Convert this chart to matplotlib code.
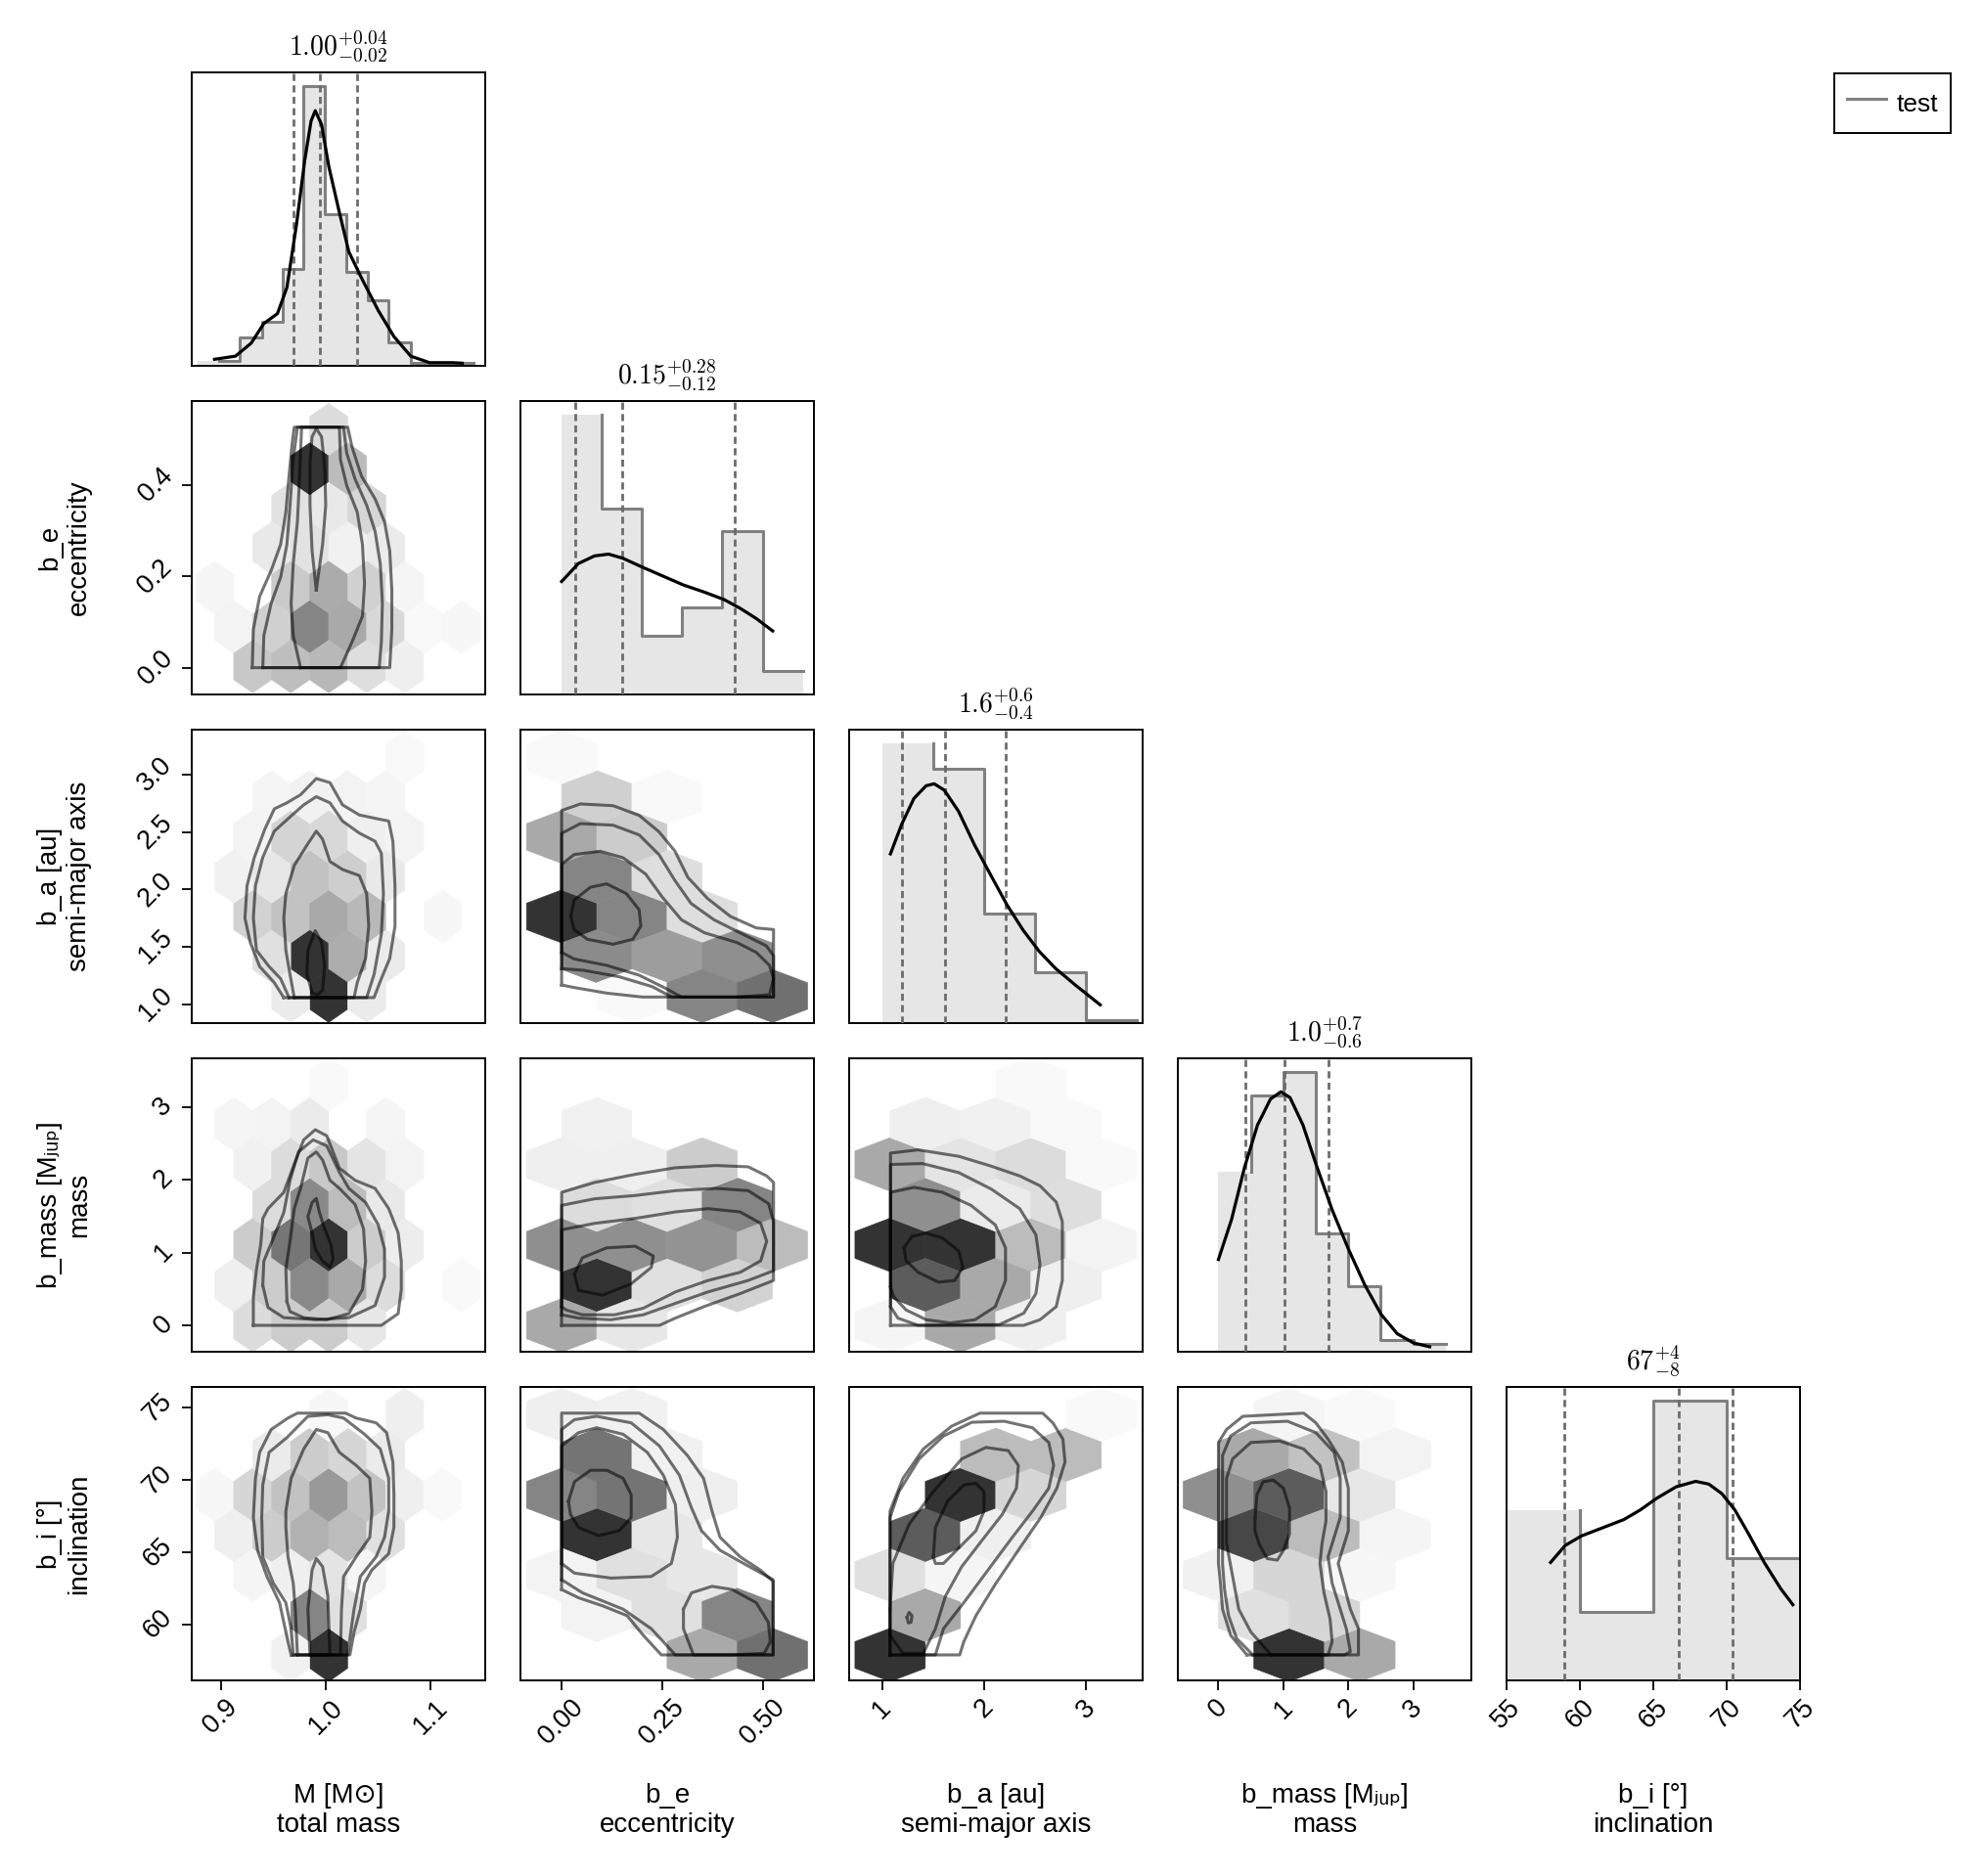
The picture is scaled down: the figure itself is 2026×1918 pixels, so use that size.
import matplotlib
matplotlib.use('Agg')
import matplotlib.pyplot as plt
import numpy as np
from matplotlib.collections import PolyCollection
from matplotlib.lines import Line2D

plt.rcParams['font.family'] = ['Liberation Sans', 'DejaVu Sans', 'Noto Sans']
plt.rcParams['mathtext.fontset'] = 'cm'

# ---- variables ----
labels = ['M [M⊙]\ntotal mass', 'b_e\neccentricity', 'b_a [au]\nsemi-major axis',
          'b_mass [Mⱼᵤₚ]\nmass', 'b_i [°]\ninclination']
titles = [r'$1.00^{+0.04}_{-0.02}$', r'$0.15^{+0.28}_{-0.12}$', r'$1.6^{+0.6}_{-0.4}$',
          r'$1.0^{+0.7}_{-0.6}$', r'$67^{+4}_{-8}$']
xlims = [(0.8723, 1.152), (-0.1024, 0.6275), (0.6786, 3.555), (-0.625, 3.894), (55, 75)]
ylims = [None, (-0.0587, 0.5843), (0.835, 3.391), (-0.362, 3.665), (56.14, 76.42)]
xticks = [[0.9, 1.0, 1.1], [0.0, 0.25, 0.5], [1, 2, 3], [0, 1, 2, 3], [55, 60, 65, 70, 75]]
xticklabels = [['0.9', '1.0', '1.1'], ['0.00', '0.25', '0.50'], ['1', '2', '3'],
               ['0', '1', '2', '3'], ['55', '60', '65', '70', '75']]
yticks = [None, [0.0, 0.2, 0.4], [1.0, 1.5, 2.0, 2.5, 3.0], [0, 1, 2, 3], [60, 65, 70, 75]]
yticklabels = [None, ['0.0', '0.2', '0.4'], ['1.0', '1.5', '2.0', '2.5', '3.0'],
               ['0', '1', '2', '3'], ['60', '65', '70', '75']]

# ---- 1D histograms, KDE curves, quantiles ----
hist_M_edges = [0.878, 0.898, 0.918, 0.939, 0.959, 0.979, 0.999, 1.020, 1.040, 1.060, 1.081, 1.101, 1.121, 1.141]
hist_M_counts = [2, 2, 11, 17, 37, 107, 58, 36, 25, 9, 1, 1, 1]
kde_M_x = [0.894, 0.914, 0.929, 0.941, 0.954, 0.963, 0.972, 0.980, 0.986, 0.990, 0.996, 1.003, 1.013, 1.022, 1.034, 1.050, 1.065, 1.081, 1.099, 1.121, 1.130]
kde_M_y = [2.5, 3.7, 8.7, 16.2, 20.0, 30.0, 53.7, 78.7, 93.7, 97.7, 92.4, 76.2, 58.7, 43.7, 33.7, 21.2, 11.2, 3.7, 1.2, 1.2, 1.0]
quant_M = [0.969, 0.994, 1.030]

hist_e_edges = [0.0, 0.1, 0.2, 0.3, 0.4, 0.5, 0.6]
hist_e_counts = [48, 32, 10, 15, 28, 4]
kde_e_x = [0.0, 0.042, 0.082, 0.117, 0.152, 0.203, 0.253, 0.303, 0.354, 0.404, 0.444, 0.485, 0.525]
kde_e_y = [19.4, 22.5, 23.8, 24.1, 23.4, 21.8, 20.3, 18.8, 17.6, 16.3, 14.8, 13.0, 10.9]
quant_e = [0.034, 0.150, 0.430]

hist_a_edges = [1.0, 1.5, 2.0, 2.5, 3.0, 3.5]
hist_a_counts = [110, 100, 43, 20, 1]
kde_a_x = [1.083, 1.194, 1.313, 1.432, 1.512, 1.611, 1.750, 1.909, 2.067, 2.226, 2.385, 2.544, 2.702, 2.901, 3.139]
kde_a_y = [66.6, 78.3, 88.4, 93.4, 94.2, 91.7, 83.4, 70.0, 58.2, 46.5, 36.5, 28.1, 21.5, 14.8, 7.2]
quant_a = [1.20, 1.62, 2.21]

hist_m_edges = [0.0, 0.5, 1.0, 1.5, 2.0, 2.5, 3.0, 3.5]
hist_m_counts = [47, 67, 73, 31, 17, 3, 2]
kde_m_x = [0.0, 0.201, 0.401, 0.601, 0.801, 0.961, 1.102, 1.302, 1.502, 1.752, 2.002, 2.252, 2.503, 2.753, 3.003, 3.253]
kde_m_y = [24.1, 34.5, 48.1, 59.2, 66.0, 67.9, 66.4, 59.2, 49.0, 37.0, 26.8, 17.5, 9.8, 4.7, 2.3, 1.3]
quant_m = [0.41, 1.01, 1.70]

hist_i_edges = [55, 60, 65, 70, 75]
hist_i_counts = [25, 10, 41, 18]
kde_i_x = [58.0, 59.0, 60.11, 61.44, 63.0, 64.11, 65.22, 66.56, 67.89, 68.78, 69.67, 70.56, 71.44, 72.56, 73.67, 74.51]
kde_i_y = [17.3, 19.8, 21.2, 22.3, 23.6, 25.0, 26.7, 28.4, 29.2, 28.8, 27.4, 25.0, 21.7, 17.3, 13.5, 11.1]
quant_i = [58.96, 66.73, 70.38]

# ---- hexbin lattices: bin width per x variable, row step per y variable ----
hex_w = [0.0362, 0.1748, 0.69, 1.088]
hex_dy = [None, 0.0865, 0.3465, 0.552, 2.767]

# cells: (half-width column index, row index, relative density)
hex_e_M_origin = (0.9847, 0.435)
hex_e_M = [(1, 1, 0.17), (0, 0, 1.0), (2, 0, 0.33),
           (-1, -1, 0.14), (1, -1, 0.11), (3, -1, 0.2),
           (-2, -2, 0.11), (0, -2, 0.14), (2, -2, 0.07), (4, -2, 0.1),
           (-5, -3, 0.05), (-1, -3, 0.26), (1, -3, 0.41), (3, -3, 0.23), (5, -3, 0.05),
           (-4, -4, 0.06), (-2, -4, 0.23), (0, -4, 0.6), (2, -4, 0.42), (4, -4, 0.19), (6, -4, 0.03), (8, -4, 0.04),
           (-3, -5, 0.27), (-1, -5, 0.32), (1, -5, 0.35), (3, -5, 0.16), (5, -5, 0.08)]

hex_a_M_origin = (0.9847, 1.418)
hex_a_M = [(0, 0, 1.0), (-2, 0, 0.15), (2, 0, 0.4), (4, 0, 0.1),
           (1, -1, 1.0), (-1, -1, 0.1), (3, -1, 0.1),
           (-3, 1, 0.22), (-1, 1, 0.3), (1, 1, 0.42), (3, 1, 0.35), (7, 1, 0.04),
           (-4, 2, 0.07), (-2, 2, 0.12), (0, 2, 0.3), (2, 2, 0.24), (4, 2, 0.11),
           (-3, 3, 0.06), (-1, 3, 0.21), (1, 3, 0.19), (3, 3, 0.08), (5, 3, 0.06),
           (-2, 4, 0.05), (0, 4, 0.07), (2, 4, 0.06), (4, 4, 0.05), (5, 5, 0.03)]

hex_m_M_origin = (0.9847, 1.104)
hex_m_M = [(1, 0, 1.0), (-3, 0, 0.25), (-1, 0, 0.67), (3, 0, 0.25), (5, 0, 0.09),
           (-2, 1, 0.17), (0, 1, 0.58), (2, 1, 0.33), (4, 1, 0.11),
           (-4, -1, 0.08), (-2, -1, 0.25), (0, -1, 0.58), (2, -1, 0.42), (4, -1, 0.17), (8, -1, 0.03),
           (-3, -2, 0.17), (-1, -2, 0.25), (1, -2, 0.25), (3, -2, 0.12),
           (-3, 2, 0.07), (-1, 2, 0.17), (1, 2, 0.27), (3, 2, 0.13), (5, 2, 0.06),
           (-4, 3, 0.05), (-2, 3, 0.06), (0, 3, 0.1), (4, 3, 0.05), (1, 4, 0.03)]

hex_i_M_origin = (0.9847, 57.9)
hex_i_M = [(1, 0, 1.0), (-1, 0, 0.07), (0, 1, 0.6), (2, 1, 0.15),
           (-3, 2, 0.05), (-1, 2, 0.08), (1, 2, 0.13), (3, 2, 0.05),
           (-4, 3, 0.08), (-2, 3, 0.25), (0, 3, 0.38), (2, 3, 0.33), (4, 3, 0.15),
           (-5, 4, 0.04), (-3, 4, 0.2), (-1, 4, 0.3), (1, 4, 0.5), (3, 4, 0.3), (5, 4, 0.08), (7, 4, 0.03),
           (-2, 5, 0.1), (0, 5, 0.25), (2, 5, 0.2), (4, 5, 0.1), (1, 6, 0.04), (5, 6, 0.08)]

hex_a_e_origin = (0.0, 1.764)
hex_a_e = [(0, 0, 1.0), (2, 0, 0.6), (4, 0, 0.16),
           (1, -1, 0.57), (3, -1, 0.48), (5, -1, 0.55),
           (2, -2, 0.03), (4, -2, 0.6), (6, -2, 0.7),
           (1, 1, 0.6), (3, 1, 0.16), (0, 2, 0.42), (2, 2, 0.25),
           (1, 3, 0.23), (3, 3, 0.03), (0, 4, 0.03)]

hex_m_e_origin = (0.0, 0.552)
hex_m_e = [(1, 0, 1.0), (3, 0, 0.15), (5, 0, 0.22),
           (0, 1, 0.55), (2, 1, 0.55), (4, 1, 0.53), (6, 1, 0.33),
           (1, 2, 0.17), (3, 2, 0.15), (5, 2, 0.6),
           (0, 3, 0.08), (2, 3, 0.08), (4, 3, 0.25), (1, 4, 0.07),
           (0, -1, 0.42), (2, -1, 0.12)]

hex_i_e_origin = (0.0, 66.2)
hex_i_e = [(1, 0, 1.0), (3, 0, 0.12), (0, 1, 0.6), (2, 1, 0.68), (4, 1, 0.08),
           (1, 2, 0.68), (3, 2, 0.07), (0, 3, 0.08), (2, 3, 0.07),
           (0, -1, 0.06), (2, -1, 0.15), (4, -1, 0.12),
           (1, -2, 0.06), (3, -2, 0.15), (5, -2, 0.6), (4, -3, 0.42), (6, -3, 0.7)]

hex_m_a_origin = (1.08, 1.104)
hex_m_a = [(0, 0, 1.0), (2, 0, 1.0), (4, 0, 0.33), (6, 0, 0.06),
           (1, 1, 0.55), (3, 1, 0.1), (5, 1, 0.16),
           (0, 2, 0.42), (2, 2, 0.13), (4, 2, 0.17), (6, 2, 0.03),
           (1, 3, 0.08), (3, 3, 0.07), (5, 3, 0.03), (4, 4, 0.03),
           (1, -1, 0.8), (3, -1, 0.42), (5, -1, 0.08),
           (0, -2, 0.05), (2, -2, 0.42), (4, -2, 0.08)]

hex_i_a_origin = (1.08, 57.9)
hex_i_a = [(0, 0, 1.0), (1, 1, 0.42), (0, 2, 0.15), (2, 2, 0.05), (1, 3, 0.8), (3, 3, 0.08),
           (2, 4, 1.0), (4, 4, 0.2), (3, 5, 0.33), (5, 5, 0.33), (6, 6, 0.03)]

hex_i_m_origin = (0.0, 57.9)
hex_i_m = [(2, 0, 1.0), (4, 0, 0.42), (1, 1, 0.15), (3, 1, 0.2), (0, 2, 0.07), (2, 2, 0.2), (4, 2, 0.04),
           (1, 3, 0.9), (3, 3, 0.33), (5, 3, 0.05), (0, 4, 0.55), (2, 4, 0.8), (4, 4, 0.12),
           (1, 5, 0.42), (3, 5, 0.3), (5, 5, 0.06), (2, 6, 0.05), (4, 6, 0.03)]

# ---- density contours (closed loops, data units) ----
cont_e_M = [
    [(0.930, 0.0), (0.931, 0.084), (0.937, 0.156), (0.948, 0.213), (0.957, 0.270), (0.962, 0.341), (0.965, 0.420), (0.968, 0.491), (0.970, 0.527), (1.021, 0.527), (1.025, 0.484), (1.034, 0.420), (1.047, 0.370), (1.056, 0.320), (1.061, 0.256), (1.063, 0.170), (1.063, 0.084), (1.061, 0.0)],
    [(0.940, 0.0), (0.941, 0.070), (0.948, 0.141), (0.957, 0.198), (0.963, 0.270), (0.966, 0.356), (0.969, 0.456), (0.973, 0.527), (1.017, 0.527), (1.020, 0.470), (1.028, 0.413), (1.039, 0.356), (1.047, 0.299), (1.052, 0.227), (1.054, 0.141), (1.053, 0.056), (1.051, 0.0)],
    [(0.976, 0.0), (0.969, 0.070), (0.967, 0.141), (0.969, 0.227), (0.973, 0.320), (0.975, 0.413), (0.977, 0.527), (1.013, 0.527), (1.014, 0.456), (1.020, 0.399), (1.030, 0.341), (1.035, 0.270), (1.037, 0.184), (1.035, 0.113), (1.025, 0.056), (1.014, 0.0)],
    [(0.991, 0.170), (0.987, 0.256), (0.985, 0.356), (0.985, 0.449), (0.987, 0.506), (0.991, 0.524), (0.996, 0.506), (0.999, 0.441), (1.000, 0.356), (0.997, 0.270)],
]
cont_a_M = [
    [(0.960, 1.057), (0.951, 1.187), (0.937, 1.328), (0.928, 1.539), (0.923, 1.750), (0.925, 2.032), (0.932, 2.279), (0.942, 2.525), (0.951, 2.701), (0.963, 2.754), (0.976, 2.824), (0.991, 2.965), (1.004, 2.930), (1.016, 2.736), (1.032, 2.648), (1.050, 2.613), (1.060, 2.595), (1.064, 2.419), (1.066, 2.032), (1.066, 1.680), (1.061, 1.398), (1.053, 1.222), (1.046, 1.057)],
    [(0.965, 1.057), (0.957, 1.222), (0.946, 1.328), (0.934, 1.469), (0.931, 1.750), (0.933, 2.032), (0.940, 2.279), (0.951, 2.507), (0.966, 2.631), (0.979, 2.736), (0.991, 2.807), (1.004, 2.754), (1.016, 2.595), (1.032, 2.490), (1.047, 2.419), (1.053, 2.314), (1.055, 1.962), (1.053, 1.609), (1.046, 1.257), (1.039, 1.057)],
    [(0.970, 1.057), (0.966, 1.257), (0.962, 1.469), (0.960, 1.750), (0.962, 1.962), (0.970, 2.208), (0.982, 2.384), (0.991, 2.507), (0.997, 2.437), (1.004, 2.243), (1.016, 2.173), (1.032, 2.120), (1.039, 1.962), (1.041, 1.680), (1.038, 1.398), (1.030, 1.187), (1.027, 1.057)],
    [(0.987, 1.10), (0.982, 1.26), (0.983, 1.47), (0.990, 1.64), (0.996, 1.54), (0.999, 1.33), (0.997, 1.12), (0.992, 1.08)],
]
cont_m_M = [
    [(0.931, 0.0), (0.931, 0.383), (0.934, 0.771), (0.938, 1.104), (0.940, 1.465), (0.945, 1.603), (0.960, 1.825), (0.970, 2.213), (0.979, 2.546), (0.990, 2.685), (1.001, 2.601), (1.013, 2.158), (1.028, 1.991), (1.047, 1.880), (1.060, 1.603), (1.069, 1.270), (1.072, 0.882), (1.072, 0.494), (1.069, 0.161), (1.053, 0.0)],
    [(0.940, 0.550), (0.945, 0.245), (0.960, 0.106), (0.991, 0.078), (1.022, 0.106), (1.047, 0.272), (1.056, 0.661), (1.056, 1.049), (1.050, 1.381), (1.038, 1.686), (1.022, 1.880), (1.013, 2.102), (1.001, 2.463), (0.988, 2.546), (0.974, 2.380), (0.966, 1.991), (0.960, 1.548), (0.949, 1.160), (0.941, 0.882)],
    [(0.963, 0.328), (0.962, 0.771), (0.966, 1.160), (0.970, 1.603), (0.976, 1.880), (0.983, 2.296), (0.991, 2.380), (0.997, 2.269), (1.004, 1.991), (1.013, 1.880), (1.028, 1.659), (1.036, 1.326), (1.038, 0.882), (1.035, 0.494), (1.022, 0.161), (1.001, 0.078), (0.979, 0.106), (0.966, 0.189)],
    [(0.987, 1.270), (0.983, 1.492), (0.987, 1.686), (0.991, 1.742), (0.994, 1.548), (0.999, 1.326), (1.005, 1.104), (1.007, 0.910), (1.004, 0.799), (0.997, 0.882), (0.990, 1.049)],
]
cont_i_M = [
    [(0.967, 57.90), (0.964, 58.81), (0.960, 60.16), (0.956, 61.51), (0.944, 63.32), (0.935, 65.13), (0.931, 67.39), (0.933, 70.10), (0.937, 71.90), (0.948, 73.48), (0.964, 74.27), (0.973, 74.61), (1.019, 74.61), (1.029, 74.27), (1.048, 73.94), (1.058, 73.26), (1.064, 71.23), (1.065, 68.97), (1.065, 66.71), (1.060, 64.90), (1.044, 63.77), (1.037, 62.87), (1.033, 61.06), (1.027, 59.48), (1.023, 57.90)],
    [(0.969, 57.90), (0.967, 59.71), (0.962, 61.51), (0.950, 62.87), (0.940, 64.68), (0.939, 67.39), (0.940, 69.65), (0.946, 71.90), (0.963, 72.92), (0.983, 74.39), (1.002, 74.50), (1.017, 74.27), (1.037, 73.15), (1.052, 72.13), (1.060, 70.10), (1.060, 67.84), (1.056, 66.03), (1.048, 64.68), (1.033, 63.32), (1.027, 61.06), (1.023, 59.03), (1.021, 57.90)],
    [(0.973, 57.90), (0.971, 61.06), (0.969, 62.87), (0.964, 64.68), (0.962, 66.71), (0.962, 67.84), (0.967, 70.10), (0.979, 72.13), (0.991, 73.48), (1.002, 73.26), (1.013, 71.90), (1.029, 71.00), (1.042, 70.10), (1.044, 67.84), (1.042, 66.03), (1.029, 64.68), (1.017, 63.32), (1.015, 61.06), (1.014, 57.90)],
    [(0.985, 57.90), (0.983, 61.06), (0.987, 63.77), (0.991, 64.56), (0.997, 64.00), (1.002, 61.97), (1.004, 57.90)],
]
cont_a_e = [
    [(0.0, 1.167), (0.0, 2.687), (0.047, 2.744), (0.128, 2.729), (0.193, 2.644), (0.242, 2.502), (0.282, 2.332), (0.314, 2.104), (0.363, 1.920), (0.420, 1.764), (0.484, 1.664), (0.527, 1.650), (0.527, 1.062), (0.201, 1.062), (0.112, 1.096), (0.031, 1.145)],
    [(0.0, 1.309), (0.0, 2.488), (0.047, 2.573), (0.128, 2.559), (0.193, 2.474), (0.242, 2.303), (0.282, 2.076), (0.322, 1.877), (0.379, 1.735), (0.452, 1.607), (0.509, 1.508), (0.527, 1.423), (0.527, 1.062), (0.274, 1.062), (0.225, 1.153), (0.144, 1.238), (0.055, 1.295)],
    [(0.0, 1.451), (0.0, 2.218), (0.031, 2.303), (0.096, 2.332), (0.153, 2.275), (0.209, 2.133), (0.250, 1.934), (0.298, 1.735), (0.355, 1.622), (0.436, 1.537), (0.484, 1.451), (0.517, 1.338), (0.527, 1.224), (0.517, 1.082), (0.436, 1.062), (0.298, 1.062), (0.258, 1.139), (0.193, 1.252), (0.112, 1.338), (0.031, 1.394)],
    [(0.023, 1.764), (0.031, 1.906), (0.072, 2.019), (0.112, 2.048), (0.161, 1.963), (0.193, 1.821), (0.197, 1.679), (0.177, 1.565), (0.128, 1.522), (0.064, 1.565), (0.031, 1.650)],
]
cont_m_e = [
    [(0.0, 0.0), (0.0, 1.826), (0.082, 1.961), (0.183, 2.073), (0.283, 2.163), (0.384, 2.194), (0.464, 2.176), (0.510, 2.051), (0.527, 1.961), (0.527, 0.616), (0.444, 0.436), (0.354, 0.257), (0.283, 0.100), (0.243, 0.0)],
    [(0.0, 0.145), (0.0, 1.647), (0.082, 1.737), (0.183, 1.782), (0.283, 1.849), (0.384, 1.880), (0.464, 1.849), (0.515, 1.669), (0.527, 1.423), (0.527, 0.750), (0.464, 0.616), (0.364, 0.459), (0.283, 0.302), (0.203, 0.145), (0.122, 0.077), (0.042, 0.100)],
    [(0.0, 0.257), (0.0, 1.311), (0.082, 1.400), (0.183, 1.468), (0.283, 1.557), (0.364, 1.602), (0.444, 1.557), (0.495, 1.400), (0.510, 1.154), (0.495, 0.885), (0.444, 0.728), (0.364, 0.616), (0.283, 0.459), (0.203, 0.235), (0.132, 0.145), (0.052, 0.145), (0.011, 0.212)],
    [(0.032, 0.705), (0.052, 0.929), (0.112, 1.064), (0.183, 1.086), (0.228, 0.952), (0.223, 0.795), (0.173, 0.571), (0.102, 0.414), (0.042, 0.481)],
]
cont_m_a = [
    [(1.084, 0.0), (1.084, 2.364), (1.355, 2.409), (1.753, 2.320), (2.071, 2.185), (2.350, 2.051), (2.549, 1.916), (2.708, 1.692), (2.768, 1.423), (2.768, 0.616), (2.708, 0.257), (2.549, 0.077), (2.390, 0.0)],
    [(1.084, 0.257), (1.084, 2.208), (1.395, 2.221), (1.753, 2.096), (2.071, 1.871), (2.350, 1.602), (2.509, 1.244), (2.549, 0.840), (2.509, 0.436), (2.390, 0.167), (2.151, 0.010), (1.355, 0.0), (1.156, 0.100)],
    [(1.084, 0.526), (1.084, 1.826), (1.315, 1.894), (1.594, 1.826), (1.872, 1.647), (2.111, 1.378), (2.211, 1.064), (2.211, 0.616), (2.111, 0.257), (1.912, 0.077), (1.673, 0.033), (1.435, 0.077), (1.236, 0.212), (1.116, 0.391)],
    [(1.216, 1.064), (1.295, 1.221), (1.435, 1.266), (1.594, 1.199), (1.753, 1.019), (1.793, 0.795), (1.713, 0.616), (1.554, 0.593), (1.355, 0.728), (1.236, 0.885)],
]
cont_i_e = [
    [(0.0, 62.42), (0.0, 74.61), (0.193, 74.61), (0.253, 73.48), (0.313, 71.68), (0.353, 70.10), (0.374, 67.84), (0.394, 66.03), (0.444, 64.68), (0.494, 63.77), (0.526, 62.98), (0.526, 57.90), (0.248, 57.90), (0.203, 59.26), (0.163, 60.61), (0.102, 61.29), (0.042, 61.85)],
    [(0.0, 63.10), (0.0, 73.48), (0.032, 74.16), (0.087, 74.39), (0.173, 73.94), (0.243, 72.35), (0.293, 70.32), (0.323, 68.06), (0.348, 66.48), (0.394, 65.13), (0.474, 63.89), (0.526, 63.10), (0.526, 57.90), (0.283, 57.90), (0.223, 59.71), (0.153, 61.06), (0.052, 62.19)],
    [(0.0, 64.22), (0.0, 72.35), (0.042, 73.26), (0.087, 73.60), (0.153, 73.15), (0.213, 71.90), (0.253, 70.32), (0.283, 68.29), (0.288, 66.03), (0.273, 64.22), (0.223, 63.32), (0.123, 63.21), (0.032, 63.55)],
    [(0.303, 61.06), (0.323, 62.19), (0.374, 62.64), (0.424, 62.42), (0.484, 61.51), (0.514, 60.16), (0.519, 58.81), (0.504, 58.01), (0.424, 57.90), (0.328, 57.90), (0.303, 59.71)],
    [(0.017, 68.52), (0.032, 69.87), (0.072, 70.66), (0.113, 70.66), (0.153, 70.10), (0.173, 68.97), (0.173, 67.39), (0.143, 66.48), (0.092, 66.14), (0.042, 66.71), (0.022, 67.61)],
]
cont_i_a = [
    [(1.079, 57.90), (1.079, 67.84), (1.206, 70.10), (1.405, 72.13), (1.683, 73.71), (1.960, 74.61), (2.575, 74.61), (2.675, 73.94), (2.774, 72.81), (2.794, 71.23), (2.714, 69.42), (2.556, 67.39), (2.357, 65.35), (2.119, 62.87), (1.921, 60.61), (1.802, 58.81), (1.762, 57.90)],
    [(1.079, 57.90), (1.079, 67.39), (1.167, 69.19), (1.365, 71.45), (1.603, 73.03), (1.881, 73.98), (2.199, 74.05), (2.476, 73.60), (2.635, 72.58), (2.683, 71.00), (2.635, 69.42), (2.476, 67.84), (2.278, 66.03), (2.040, 63.77), (1.802, 61.51), (1.603, 59.71), (1.524, 57.90)],
    [(1.079, 61.06), (1.107, 64.22), (1.266, 66.93), (1.504, 69.19), (1.782, 71.45), (2.020, 72.24), (2.238, 72.02), (2.337, 71.00), (2.318, 69.42), (2.179, 67.61), (1.980, 65.81), (1.782, 64.00), (1.623, 61.97), (1.524, 59.71), (1.405, 58.01), (1.206, 58.01), (1.079, 59.26)],
    [(1.504, 64.68), (1.524, 66.71), (1.643, 68.52), (1.802, 69.65), (1.921, 69.76), (2.000, 69.19), (2.000, 67.84), (1.921, 66.48), (1.762, 65.35), (1.603, 64.22), (1.524, 64.22)],
    [(1.246, 60.50), (1.266, 60.84), (1.294, 60.61), (1.286, 60.16), (1.258, 60.11)],
]
cont_i_m = [
    [(0.438, 57.90), (0.188, 59.26), (0.063, 61.06), (0.031, 62.87), (0.0, 64.22), (0.0, 72.58), (0.125, 73.48), (0.375, 74.39), (1.313, 74.61), (1.500, 73.94), (1.688, 72.81), (1.906, 71.23), (2.000, 69.42), (2.000, 66.48), (1.906, 65.13), (1.844, 64.22), (1.938, 62.64), (2.031, 61.06), (2.156, 59.71), (2.156, 57.90)],
    [(0.531, 57.90), (0.281, 59.03), (0.156, 60.61), (0.094, 62.42), (0.063, 64.22), (0.063, 71.68), (0.188, 73.03), (0.500, 73.94), (1.063, 74.05), (1.500, 73.26), (1.781, 71.90), (1.875, 70.10), (1.875, 67.39), (1.781, 66.03), (1.688, 64.68), (1.750, 62.87), (1.875, 61.06), (1.969, 59.71), (2.031, 58.13), (1.938, 57.90)],
    [(0.813, 57.90), (0.500, 59.48), (0.313, 61.06), (0.219, 63.32), (0.125, 65.58), (0.125, 70.10), (0.219, 71.45), (0.500, 72.58), (0.938, 72.69), (1.313, 72.13), (1.563, 71.00), (1.656, 69.19), (1.656, 67.16), (1.594, 65.58), (1.563, 64.22), (1.625, 62.19), (1.719, 60.38), (1.750, 58.81), (1.688, 57.90)],
    [(0.563, 67.39), (0.594, 68.97), (0.688, 69.87), (0.844, 69.98), (1.000, 69.42), (1.094, 68.06), (1.094, 66.26), (1.000, 65.13), (0.906, 64.45), (0.750, 64.56), (0.625, 65.58), (0.563, 66.48)],
]

diag = {
    0: (hist_M_edges, hist_M_counts, kde_M_x, kde_M_y, quant_M),
    1: (hist_e_edges, hist_e_counts, kde_e_x, kde_e_y, quant_e),
    2: (hist_a_edges, hist_a_counts, kde_a_x, kde_a_y, quant_a),
    3: (hist_m_edges, hist_m_counts, kde_m_x, kde_m_y, quant_m),
    4: (hist_i_edges, hist_i_counts, kde_i_x, kde_i_y, quant_i),
}
pairs = {
    (1, 0): (hex_e_M, hex_e_M_origin, cont_e_M),
    (2, 0): (hex_a_M, hex_a_M_origin, cont_a_M),
    (3, 0): (hex_m_M, hex_m_M_origin, cont_m_M),
    (4, 0): (hex_i_M, hex_i_M_origin, cont_i_M),
    (2, 1): (hex_a_e, hex_a_e_origin, cont_a_e),
    (3, 1): (hex_m_e, hex_m_e_origin, cont_m_e),
    (4, 1): (hex_i_e, hex_i_e_origin, cont_i_e),
    (3, 2): (hex_m_a, hex_m_a_origin, cont_m_a),
    (4, 2): (hex_i_a, hex_i_a_origin, cont_i_a),
    (4, 3): (hex_i_m, hex_i_m_origin, cont_i_m),
}

# ---- figure layout (pixels) ----
W, H = 2026, 1918
fig = plt.figure(figsize=(W / 100, H / 100), dpi=100)
col_left = [196, 532, 868, 1204, 1540]
row_top = [74, 410, 746, 1082, 1418]
size = 300


def draw_hex(ax, cells, origin, w, dy):
    x0, y0 = origin
    h = dy * 4 / 3
    verts, cols = [], []
    for i, j, d in cells:
        cx = x0 + i * w / 2
        cy = y0 + j * dy
        verts.append([(cx, cy + h / 2), (cx + w / 2, cy + h / 4), (cx + w / 2, cy - h / 4),
                      (cx, cy - h / 2), (cx - w / 2, cy - h / 4), (cx - w / 2, cy + h / 4)])
        g = 1 - 0.8 * d
        cols.append((g, g, g))
    pc = PolyCollection(verts, facecolors=cols, edgecolors=cols, linewidths=0.4, zorder=1)
    ax.add_collection(pc)


for r in range(5):
    for c in range(r + 1):
        ax = fig.add_axes([col_left[c] / W, 1 - (row_top[r] + size) / H, size / W, size / H])
        for s in ax.spines.values():
            s.set_linewidth(1.4)
        ax.tick_params(direction='out', length=7.5, width=1.3, labelsize=19.5, pad=3)

        if r == c:
            edges, counts, kx, ky, qs = diag[r]
            edges = np.asarray(edges)
            counts = np.asarray(counts)
            ax.stairs(counts, edges, fill=True, color='#e6e6e6', lw=0, zorder=1)
            ax.step(edges[1:], counts, where='pre', color='#808080', lw=2.2, zorder=2)
            for q in qs:
                ax.axvline(q, color='#6c6c6c', lw=2.0, ls=(0, (2.6, 1.6)), zorder=3)
            ax.plot(kx, ky, color='k', lw=2.3, zorder=4)
            ax.set_ylim(0, counts.max() * 1.05)
            ax.set_title(titles[r], fontsize=20, pad=12)
        else:
            cells, origin, conts = pairs[(r, c)]
            draw_hex(ax, cells, origin, hex_w[c], hex_dy[r])
            for pts in conts:
                pts = np.asarray(pts)
                pts = np.vstack([pts, pts[:1]])
                ax.plot(pts[:, 0], pts[:, 1], color='k', alpha=0.55, lw=2.2,
                        solid_joinstyle='round', zorder=3)
            ax.set_ylim(*ylims[r])

        ax.set_xlim(*xlims[c])

        if r == 4:
            ax.set_xticks(xticks[c])
            ax.set_xticklabels(xticklabels[c], rotation=45)
            ax.set_xlabel(labels[c], fontsize=20)
            ax.xaxis.set_label_coords(0.5, -0.35)
        else:
            ax.set_xticks([])
        if c == 0 and r > 0:
            ax.set_yticks(yticks[r])
            ax.set_yticklabels(yticklabels[r], rotation=45, va='center')
            ax.set_ylabel(labels[r], fontsize=20)
            ax.yaxis.set_label_coords(-0.34, 0.5)
        else:
            ax.set_yticks([])

leg = fig.legend(handles=[Line2D([], [], color='#808080', lw=2.2)], labels=['test'],
                 loc='upper right', bbox_to_anchor=(1994 / W, 1 - 75 / H), fontsize=19,
                 frameon=True, fancybox=False, edgecolor='k', framealpha=1,
                 handlelength=1.5, handleheight=1.65, handletextpad=0.4, borderpad=0.5,
                 borderaxespad=0)
leg.get_frame().set_linewidth(1.4)

fig.savefig('out.png', dpi=100)
